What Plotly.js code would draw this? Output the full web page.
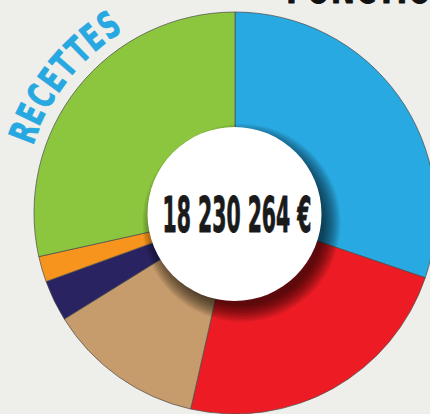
<!DOCTYPE html>
<html>
<head>
<meta charset="utf-8">
<script src="https://cdn.plot.ly/plotly-3.0.1.min.js"></script>
<style>
  html, body { margin:0; padding:0; width:430px; height:414px; overflow:hidden; background:#eeeeeb; }
  #chart { width:470px; height:430px; }
</style>
</head>
<body>
<div id="chart"></div>
<script>
// ---- data ----
const labels = ['Impôts et taxes', 'Dotations et participations', 'Produits des services', 'Autres produits de gestion', 'Atténuations de charges', 'Excédent reporté'];
const values = [5510000, 4250000, 2300000, 603000, 375000, 5192264];
const colors = ['#29a9e1', '#ed1c24', '#c69c6d', '#2a2361', '#f7941d', '#8cc63f'];
const totalLabel = '18 230 264 €';
const sideTitle = 'RECETTES';
const topTitle = 'FONCTIONNEMENT';

// ---- layout helpers (pixel -> paper) ----
const W = 470, H = 430;
const px = x => x / W;
const py = y => 1 - y / H;
const CX = 235, CY = 213, R = 201;
const HX = 234.5, HY = 214, HR = 87;
const FONT = '"Liberation Sans Narrow", "DejaVu Sans Condensed", "Liberation Sans", sans-serif';

function circle(cx, cy, r, fill) {
  return {type: 'circle', xref: 'paper', yref: 'paper', layer: 'above',
    x0: px(cx - r), x1: px(cx + r), y0: py(cy + r), y1: py(cy - r),
    fillcolor: fill, line: {width: 0}};
}

const shapes = [];
for (let k = 0; k < 12; k++) {
  const rr = HR + 12 - k * 1.5;
  shapes.push(circle(HX + 7, HY + 9, rr, 'rgba(0,0,0,0.07)'));
}
shapes.push(circle(HX, HY, HR, '#ffffff'));

const annotations = [];
const scales = [];
// center total
annotations.push({xref: 'paper', yref: 'paper', x: px(236.5), y: py(215.5), xanchor: 'center', yanchor: 'middle',
  text: totalLabel, showarrow: false, font: {family: FONT, size: 49, color: '#1a1a1a', weight: 'bold'}});
scales.push({target: 149, origin: 'center', stroke: 0.9});
// top title (cropped by the frame, as in the original)
annotations.push({xref: 'paper', yref: 'paper', x: px(284), y: py(15), xanchor: 'left', yanchor: 'bottom',
  text: topTitle, showarrow: false, font: {family: FONT, size: 44, color: '#111111', weight: 'bold'}});
scales.push({sub: 7, target: 146, origin: 'left', stroke: 0.9});
// curved side title
const a0 = 159.0, step = -5.0, RT = 226;
for (let i = 0; i < sideTitle.length; i++) {
  const th = (a0 + step * i) * Math.PI / 180;
  const x = CX + RT * Math.cos(th), y = CY - RT * Math.sin(th);
  annotations.push({xref: 'paper', yref: 'paper', x: px(x), y: py(y), xanchor: 'center', yanchor: 'middle',
    text: sideTitle[i], textangle: 90 - (a0 + step * i), showarrow: false,
    font: {family: FONT, size: 37, color: '#27a8e0', weight: 'bold'}});
  scales.push({sx: 0.74, origin: 'center', stroke: 0.8});
}

const trace = {
  type: 'pie', labels: labels, values: values, sort: false, direction: 'clockwise', rotation: 0,
  hole: 0.4, textinfo: 'none', hoverinfo: 'skip', showlegend: false,
  marker: {colors: colors, line: {color: '#4a4a4a', width: 0.7}},
  domain: {x: [px(CX - R), px(CX + R)], y: [py(CY + R), py(CY - R)]}
};

const layout = {
  width: W, height: H, margin: {l: 0, r: 0, t: 0, b: 0},
  paper_bgcolor: '#eeeeeb', plot_bgcolor: '#eeeeeb',
  shapes: shapes, annotations: annotations, showlegend: false
};

Plotly.newPlot('chart', [trace], layout, {staticPlot: true, displayModeBar: false}).then(gd => {
  scales.forEach((s, i) => {
    const t = gd.querySelector('g.annotation[data-index="' + i + '"] text.annotation-text');
    if (!t) return;
    const bb = t.getBBox();
    let sx = s.sx || 1;
    if (s.target) {
      let w = bb.width;
      if (s.sub) { try { w = t.getSubStringLength(0, s.sub); } catch (e) {} }
      sx = s.target / w;
    }
    const ox = s.origin === 'left' ? bb.x : bb.x + bb.width / 2;
    const oy = bb.y + bb.height / 2;
    t.setAttribute('transform', 'translate(' + ox + ',' + oy + ') scale(' + sx + ',1) translate(' + (-ox) + ',' + (-oy) + ')');
    if (s.stroke) {
      const c = t.style.fill || t.getAttribute('fill') || '#000';
      t.style.stroke = c;
      t.style.strokeWidth = s.stroke + 'px';
      t.style.strokeLinejoin = 'round';
    }
  });
});
</script>
</body>
</html>
